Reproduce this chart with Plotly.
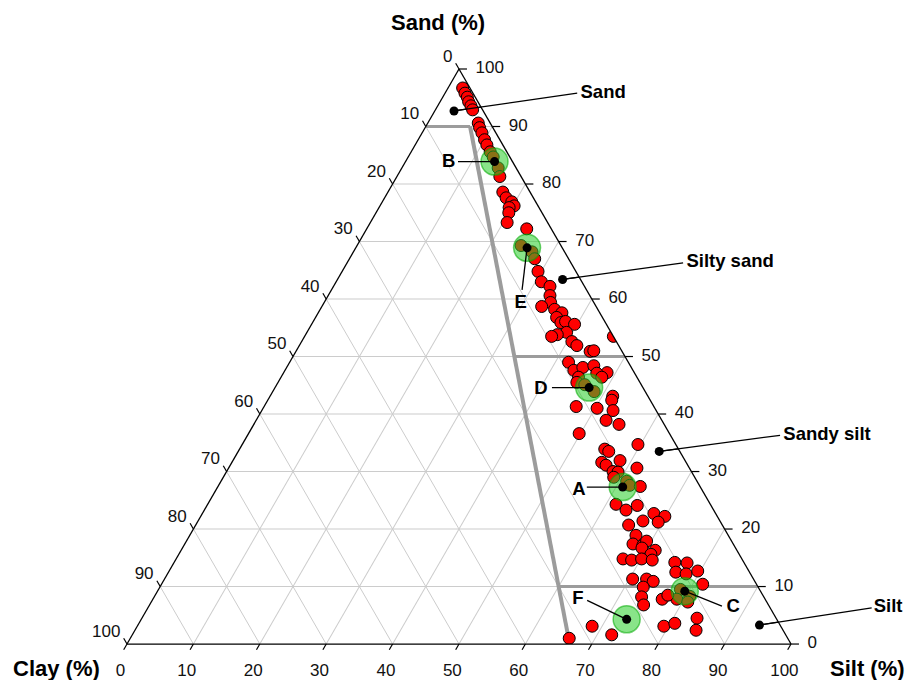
import math
import plotly.graph_objects as go

# ---------------- data (percent) ----------------
sand = [96.7, 95.8, 95.1, 94.3, 93.6, 92.9, 90.6, 89.8, 88.9, 87.7, 86.8, 85.6, 84.7, 82.8, 81.3,
        78.6, 77.6, 76.9, 76.2, 75.9, 75.0, 73.3, 72.2,
        69.3, 68.2,
        67.0, 64.8, 63.0, 62.2, 60.6, 59.4, 58.7, 58.2, 57.6, 56.8, 55.9, 56.1, 55.6, 54.2, 53.8, 53.5,
        52.6, 51.9, 50.9, 51.0, 53.5,
        49.0, 47.6, 48.1, 48.4, 47.2, 47.1, 46.4, 46.4, 45.5, 45.1, 43.9,
        43.1, 42.4, 41.3, 41.0, 40.6, 38.9, 38.2, 36.6, 34.7, 33.9, 33.5, 31.9, 31.6, 31.1, 30.6,
        30.0, 29.9, 29.0, 28.3, 27.6, 27.4,
        24.3, 23.3, 24.1, 22.7, 22.2, 21.2, 21.4, 20.7, 18.9, 17.4, 17.2, 17.9, 16.7, 16.3, 15.6,
        14.8, 14.6, 14.8, 14.6, 14.2, 14.1, 12.5, 12.2, 12.7, 11.3, 11.3, 10.9, 9.9, 10.4, 9.5,
        8.3, 7.8, 8.2, 7.8, 8.5, 6.8, 7.3, 3.1, 3.6, 4.5, 2.4, 3.1, 1.6, 1.0]
clay = [1.1, 1.2, 1.2, 1.4, 1.4, 1.5, 1.8, 2.0, 2.1, 2.3, 2.4, 2.5, 2.5, 2.7, 3.2,
        4.1, 4.1, 3.6, 3.6, 4.5, 5.0, 6.1, 3.7,
        6.0, 4.9,
        5.1, 5.7, 6.1, 5.2, 6.0, 6.5, 8.2, 6.5, 5.7, 6.9, 6.7, 5.9, 4.8, 6.7, 8.3, 9.3,
        6.7, 6.3, 4.8, 4.2, 0.0,
        9.0, 8.9, 7.3, 5.5, 4.1, 5.7, 5.3, 8.8, 9.5, 8.5, 7.7,
        5.3, 5.8, 11.7, 8.7, 6.5, 8.4, 6.8, 13.6, 5.7, 11.1, 10.7, 9.8, 12.7, 12.3, 7.9,
        11.8, 11.1, 12.2, 10.6, 10.5, 9.0,
        14.2, 13.2, 11.1, 9.3, 7.9, 9.4, 11.6, 14.1, 13.9, 15.1, 13.7, 12.8, 14.1, 12.3, 13.3,
        17.9, 16.7, 15.1, 13.6, 10.4, 8.6, 11.1, 9.7, 7.7, 18.2, 16.1, 15.3, 17.3, 8.1, 11.9,
        11.1, 13.3, 18.4, 15.5, 14.3, 18.8, 11.9, 17.6, 15.7, 11.9, 13.1, 28.4, 26.2, 32.9]

# highlighted samples
sample_names = ["A", "B", "C", "D", "E", "F"]
sample_sand = [27.3, 83.9, 9.2, 44.6, 68.9, 4.3]
sample_clay = [11.7, 2.7, 11.4, 8.1, 5.3, 22.6]
sample_line_end_sand = [27.3, 83.9, 6.6, 44.6, 61.6, 7.6]
sample_line_end_clay = [17.1, 8.2, 7.1, 13.7, 9.7, 26.9]
sample_text_sand = [26.7, 83.7, 6.4, 44.3, 59.2, 7.8]
sample_text_clay = [18.6, 9.7, 5.5, 15.5, 11.1, 28.2]

# class labels
class_names = ["Sand", "Silty sand", "Sandy silt", "Silt"]
class_sand = [92.7, 63.4, 33.5, 3.3]
class_clay = [4.4, 2.7, 3.1, 3.1]
class_line_end_sand = [95.8, 66.3, 36.3, 6.3]
class_line_end_clay = [-15.7, -16.9, -16.5, -15.3]
class_text_clay = [-16.2, -17.4, -17.0, -15.6]

# classification boundaries
boundary_sand = [90, 0]
boundary_clay = [3.33, 33.33]
hline_sand = [90, 50, 10]
hline_clay_start = [10, 16.67, 30]
hline_clay_end = [3.33, 0, 0]

tick_vals = [0, 10, 20, 30, 40, 50, 60, 70, 80, 90, 100]
clay_tick_text = ["0", "10", "20", "30", "40", "50", "60", "70", "80", "90", "100"]
silt_tick_text = ["0", "10", "20", "30", "40", "50", "60", "70", "80", "90", "100"]
sand_tick_text = ["0", "10", "20", "30", "40", "50", "60", "70", "80", "90", "100"]

FONT = "Liberation Sans, Arial, sans-serif"

# ---------------- layout geometry ----------------
W, H = 909, 672
X0, Y0, SIDE = 119, 61, 664
TRI_H = SIDE * math.sqrt(3) / 2
dom_x = [X0 / W, (X0 + SIDE) / W]
dom_y = [1 - (Y0 + TRI_H) / H, 1 - Y0 / H]
# overlay cartesian axes aligned with the ternary: X = silt - clay, Y = sand
ppx = SIDE / 200.0
ppy = TRI_H / 100.0
xr = [-(X0 + SIDE / 2) / ppx, (W - (X0 + SIDE / 2)) / ppx]
yr = [100 - (H - Y0) / ppy, 100 + Y0 / ppy]


def proj(s, c):
    """ternary (sand, clay) -> overlay coordinates"""
    silt = 100 - s - c
    return silt - c, s


fig = go.Figure()

# ---- ternary traces ----
fig.add_trace(go.Scatterternary(a=boundary_sand, b=boundary_clay, mode="lines",
                                line=dict(color="#9c9c9c", width=4), hoverinfo="skip", showlegend=False))
for s, c0, c1 in zip(hline_sand, hline_clay_start, hline_clay_end):
    fig.add_trace(go.Scatterternary(a=[s, s], b=[c0, c1], mode="lines",
                                    line=dict(color="#9c9c9c", width=3), hoverinfo="skip", showlegend=False))

fig.add_trace(go.Scatterternary(a=sand, b=clay, mode="markers",
                                marker=dict(size=12, color="#ff0000", line=dict(color="black", width=1)),
                                showlegend=False))

fig.add_trace(go.Scatterternary(a=sample_sand, b=sample_clay, mode="markers",
                                marker=dict(size=27, color="rgba(40,205,40,0.55)",
                                            line=dict(color="rgba(0,170,0,0.55)", width=1.5)),
                                hoverinfo="skip", showlegend=False))

# leader lines
la, lb = [], []
for s0, c0, s1, c1 in zip(sample_sand + class_sand, sample_clay + class_clay,
                          sample_line_end_sand + class_line_end_sand,
                          sample_line_end_clay + class_line_end_clay):
    la += [s0, s1, None]
    lb += [c0, c1, None]
fig.add_trace(go.Scatterternary(a=la, b=lb, mode="lines", line=dict(color="black", width=1.3),
                                hoverinfo="skip", showlegend=False))

fig.add_trace(go.Scatterternary(a=sample_sand + class_sand, b=sample_clay + class_clay, mode="markers",
                                marker=dict(size=9, color="black"), hoverinfo="skip", showlegend=False))

fig.add_trace(go.Scatterternary(a=sample_text_sand, b=sample_text_clay, mode="text",
                                text=sample_names, textposition="middle center",
                                textfont=dict(family=FONT, size=18.5, color="black", weight="bold"),
                                hoverinfo="skip", showlegend=False))

# ---- overlay (outside the triangle): leader lines, class labels, ticks ----
lx, ly = [], []
for s0, c0, s1, c1 in zip(class_sand, class_clay, class_line_end_sand, class_line_end_clay):
    p0, p1 = proj(s0, c0), proj(s1, c1)
    lx += [p0[0], p1[0], None]
    ly += [p0[1], p1[1], None]
fig.add_trace(go.Scatter(x=lx, y=ly, mode="lines", line=dict(color="black", width=1.3),
                         hoverinfo="skip", showlegend=False))
cl = [proj(s, c) for s, c in zip(class_line_end_sand, class_text_clay)]
fig.add_trace(go.Scatter(x=[p[0] for p in cl], y=[p[1] for p in cl], mode="text", text=class_names,
                         textposition="middle right", cliponaxis=False,
                         textfont=dict(family=FONT, size=18.5, color="black", weight="bold"),
                         hoverinfo="skip", showlegend=False))

TICK_D = 1.0
LEFT_D, RIGHT_D, BOTTOM_D, BOTTOM_DROP = 2.0, 2.5, 2.0, 1.4
tx, ty = [], []
lab_left, lab_right, lab_bottom = [], [], []
for v in tick_vals:
    # clay ticks on the left edge (extension of constant-clay lines)
    a0 = proj(100 - v, v)
    a1 = proj(100 - v + TICK_D, v)
    tx += [a0[0], a1[0], None]; ty += [a0[1], a1[1], None]
    lab_left.append(proj(100 - v + LEFT_D, v))
    # sand ticks on the right edge (extension of constant-sand lines)
    c0 = proj(v, 0)
    c1 = proj(v, -1.2 * TICK_D)
    tx += [c0[0], c1[0], None]; ty += [c0[1], c1[1], None]
    lab_right.append(proj(v, -RIGHT_D))
    # silt ticks on the bottom edge (extension of constant-silt lines)
    b0 = proj(0, 100 - v)
    b1 = proj(-TICK_D, 100 - v + TICK_D)
    tx += [b0[0], b1[0], None]; ty += [b0[1], b1[1], None]
    lab_bottom.append(proj(-BOTTOM_D - BOTTOM_DROP, 100 - v + BOTTOM_D + BOTTOM_DROP / 2))

fig.add_trace(go.Scatter(x=tx, y=ty, mode="lines", line=dict(color="black", width=1.2),
                         hoverinfo="skip", showlegend=False))
tickfont = dict(family=FONT, size=17, color="#111111")
fig.add_trace(go.Scatter(x=[p[0] for p in lab_left], y=[p[1] for p in lab_left], mode="text",
                         text=clay_tick_text, textposition="middle left", textfont=tickfont,
                         cliponaxis=False, hoverinfo="skip", showlegend=False))
fig.add_trace(go.Scatter(x=[p[0] for p in lab_right], y=[p[1] for p in lab_right], mode="text",
                         text=sand_tick_text, textposition="middle right", textfont=tickfont,
                         cliponaxis=False, hoverinfo="skip", showlegend=False))
fig.add_trace(go.Scatter(x=[p[0] for p in lab_bottom], y=[p[1] for p in lab_bottom], mode="text",
                         text=silt_tick_text, textposition="bottom center", textfont=tickfont,
                         cliponaxis=False, hoverinfo="skip", showlegend=False))


def axis():
    return dict(tickmode="array", tickvals=tick_vals, ticks="", showticklabels=False,
                showline=True, linecolor="black", linewidth=1.3,
                showgrid=True, gridcolor="#cccccc", gridwidth=1, title=dict(text=""), min=0)


title_font = dict(family=FONT, size=22, color="black")
fig.update_layout(
    width=W, height=H,
    margin=dict(l=0, r=0, t=0, b=0),
    paper_bgcolor="white",
    plot_bgcolor="rgba(0,0,0,0)",
    xaxis=dict(domain=[0, 1], range=xr, visible=False, fixedrange=True),
    yaxis=dict(domain=[0, 1], range=yr, visible=False, fixedrange=True),
    ternary=dict(
        sum=100,
        domain=dict(x=dom_x, y=dom_y),
        bgcolor="rgba(0,0,0,0)",
        aaxis=axis(), baxis=axis(), caxis=axis(),
    ),
    annotations=[
        dict(text="<b>Sand (%)</b>", x=430 / W, y=1 - 14 / H, xref="paper", yref="paper",
             xanchor="center", yanchor="middle", showarrow=False, font=title_font),
        dict(text="<b>Clay (%)</b>", x=48 / W, y=1 - 660 / H, xref="paper", yref="paper",
             xanchor="center", yanchor="middle", showarrow=False, font=title_font),
        dict(text="<b>Silt (%)</b>", x=859 / W, y=1 - 660 / H, xref="paper", yref="paper",
             xanchor="center", yanchor="middle", showarrow=False, font=title_font),
    ],
)

fig.write_html("out.html")
